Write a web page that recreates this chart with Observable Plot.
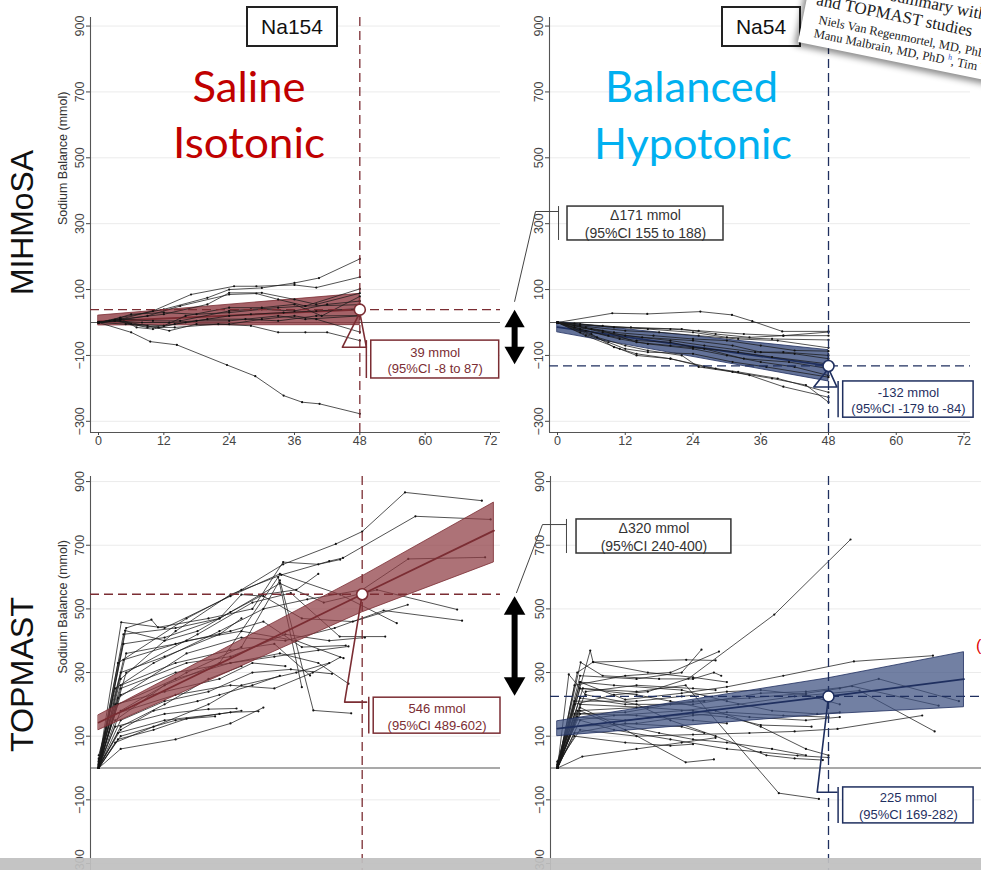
<!DOCTYPE html>
<html>
<head>
<meta charset="utf-8">
<script src="https://cdn.jsdelivr.net/npm/d3@7"></script>
<script src="https://cdn.jsdelivr.net/npm/@observablehq/plot@0.6"></script>
<style>
  body { margin: 0; background: #fff; }
  #page { position: relative; width: 981px; height: 870px; overflow: hidden; background: #fff; font-family: "Liberation Sans", Arial, sans-serif; }
  .panel { position: absolute; }
  .panel svg { display: block; }
  #deco { position: absolute; left: 0; top: 0; pointer-events: none; }
  #paper { position: absolute; left: 798px; top: -78px; width: 250px; height: 120px; background: #fff;
           transform-origin: 0 100%; transform: rotate(11.5deg);
           box-shadow: -3px 4px 6px rgba(0,0,0,0.45); font-family: "Liberation Serif", serif; color: #222; }
  #paper div { position: absolute; white-space: nowrap; line-height: 1; }
  #greybar { position: absolute; left: 0; top: 858px; width: 981px; height: 12px; background: rgba(192,192,192,0.93); }
</style>
</head>
<body>
<div id="page">
  <div class="panel" id="p-tl" style="left:0;top:0"></div>
  <div class="panel" id="p-tr" style="left:500px;top:0"></div>
  <div class="panel" id="p-bl" style="left:0;top:476px"></div>
  <div class="panel" id="p-br" style="left:500px;top:476px"></div>
  <svg id="deco" width="981" height="870">
    <text x="33" y="295" transform="rotate(-90 33 295)" font-family="Liberation Sans" font-size="32" fill="#111" textLength="145" lengthAdjust="spacingAndGlyphs">MIHMoSA</text>
    <text x="33" y="752" transform="rotate(-90 33 752)" font-family="Liberation Sans" font-size="32" fill="#111" textLength="155" lengthAdjust="spacingAndGlyphs">TOPMAST</text>
    <text x="249" y="101.7" text-anchor="middle" font-family="Lato" font-size="42" fill="#c00000" textLength="113" lengthAdjust="spacingAndGlyphs">Saline</text>
    <text x="249" y="158.3" text-anchor="middle" font-family="Lato" font-size="42" fill="#c00000" textLength="152" lengthAdjust="spacingAndGlyphs">Isotonic</text>
    <text x="691.5" y="101.7" text-anchor="middle" font-family="Lato" font-size="42" fill="#00b0f0" textLength="173" lengthAdjust="spacingAndGlyphs">Balanced</text>
    <text x="693" y="159" text-anchor="middle" font-family="Lato" font-size="42" fill="#00b0f0" textLength="198" lengthAdjust="spacingAndGlyphs">Hypotonic</text>
    <rect x="247" y="7" width="90" height="39" fill="#fff" stroke="#222" stroke-width="2"/>
    <text x="292" y="34" text-anchor="middle" font-family="Liberation Sans" font-size="21" fill="#111">Na154</text>
    <rect x="722" y="7" width="78" height="39" fill="#fff" stroke="#222" stroke-width="2"/>
    <text x="761" y="34" text-anchor="middle" font-family="Liberation Sans" font-size="21" fill="#111">Na54</text>
    <text x="976" y="651" font-family="Liberation Sans" font-size="16" fill="#e00000">(</text>
  </svg>
  <div id="paper">
    <div style="left:70px;bottom:56px;font-size:17px">a summary with</div>
    <div style="left:10px;bottom:37px;font-size:17px">and TOPMAST studies</div>
    <div style="left:16px;bottom:20px;font-size:12.5px">Niels Van Regenmortel, MD, PhD</div>
    <div style="left:14px;bottom:5px;font-size:12.5px">Manu Malbrain, MD, PhD <span style="color:#3355cc;font-size:8px;vertical-align:super">h</span>, Tim V</div>
  </div>
  <div id="greybar"></div>
</div>
<script>
// ---------- data ----------
const hours = [0, 12, 24, 36, 48, 60, 72];
const sodiumTicks = [900, 700, 500, 300, 100, -100, -300];

// MIHMoSA – saline (Na154): individual patients [hour, mmol]
const mihmosaSaline = [
  [[0,0],[4,15],[12,40],[20,75],[24,100],[30,105],[36,120],[40.5,135],[48,193]],
  [[0,0],[4,10],[10,35],[17,85],[24.9,110],[29,110],[36,114],[40,106],[48,138]],
  [[0,0],[3,5],[9,20],[15,50],[24,85],[29,88],[33,70],[38,50],[48,102]],
  [[0,0],[4,10],[12,25],[20,55],[24,90],[30,90],[36,70],[40,55],[48,89]],
  [[0,0],[3,5],[9,-15],[12,-10],[16,20],[24,45],[30,45],[36,55],[41,20],[48,79]],
  [[0,0],[4,10],[10,5],[15,5],[24,35],[28,40],[33,45],[38,50],[48,54]],
  [[0,0],[3,8],[6,-5],[12,-10],[16,0],[24,20],[28,25],[34,30],[40,35],[48,42]],
  [[0,0],[4,12],[7,-15],[10,-20],[14,-5],[20,10],[27,10],[33,5],[40,20],[48,21]],
  [[0,0],[5,-5],[11,-15],[14,-15],[22,-5],[28,-10],[33,-30],[38,-30],[42,-30],[48,-55]],
  [[0,0],[4,5],[9,-10],[13,-25],[18,-5],[24,-5],[30,10],[36,20],[40,10],[48,-29]],
  [[0,0],[6,-30],[9.5,-58],[14.4,-68],[23.6,-129],[28.8,-163],[34,-222],[37.4,-242],[40.6,-247],[48,-277]],
  [[0,0],[3,5],[8,0],[13,0],[18,5],[24,5],[33,20],[38,10],[48,20]],
  [[0,0],[2,5],[6,25],[12,30],[18,25],[24,30],[30,40],[36,35],[42,55],[48,65]]
];
const mihmosaSalineBand = [[0,-9,21],[48,-8,87]];   // hour, lower, upper
const mihmosaSalineMean = [[0,3],[48,39]];
const mihmosaSalineEstimate = 39;
const mihmosaSalineLabel = "39 mmol\n(95%CI -8 to 87)";

// MIHMoSA – balanced (Na54)
const mihmosaBalanced = [
  [[0,0],[9.7,28],[15.9,26],[25.3,33],[30.9,23],[34.5,4],[39.8,-27],[48,-27]],
  [[0,0],[4,-5],[10,-15],[20,-20],[25,-25],[33,-35],[40,-40],[48,-29]],
  [[0,0],[3,-3],[8,-10],[16,-20],[24,-30],[30,-45],[38,-50],[48,-53]],
  [[0,0],[4,-10],[12,-25],[18,-30],[25,-40],[32,-50],[39,-55],[48,-77]],
  [[0,0],[5,-15],[10,-30],[17,-40],[24,-50],[30,-55],[36,-70],[42,-85],[48,-87]],
  [[0,0],[3,-10],[8,-30],[15,-45],[24,-55],[31,-70],[36,-90],[42,-95],[48,-110]],
  [[0,0],[4,-20],[9,-40],[14,-55],[20,-60],[24,-75],[32,-90],[38,-105],[48,-126]],
  [[0,0],[5,-25],[11,-50],[16,-65],[24,-80],[30,-100],[36,-120],[42,-135],[48,-161]],
  [[0,0],[4,-30],[9,-60],[12,-80],[16,-90],[24,-95],[31,-120],[37,-135],[48,-166]],
  [[0,0],[6,-35],[10,-75],[14,-95],[20,-110],[26,-135],[32,-150],[39,-170],[48,-212]],
  [[0,0],[5,-40],[11,-80],[14,-100],[20,-110],[28,-140],[34,-160],[40,-195],[48,-227]],
  [[0,0],[7,-45],[12,-70],[16,-85],[22,-100],[25,-135],[31,-150],[38,-170],[44,-190],[48,-242]],
  [[0,0],[4,-8],[13,-15],[22,-20],[28,-35],[34,-45],[40,-40],[48,-40]],
  [[0,0],[6,-20],[12,-40],[20,-55],[26,-70],[35,-90],[40,-90],[48,-100]],
  [[0,0],[3,-15],[8,-25],[14,-60],[20,-70],[26,-80],[33,-110],[41,-120],[48,-140]]
];
const mihmosaBalancedBand = [[0,-30,1],[48,-179,-84]];
const mihmosaBalancedMean = [[0,-14],[48,-132]];
const mihmosaBalancedEstimate = -132;
const mihmosaBalancedLabel = "-132 mmol\n(95%CI -179 to -84)";
const mihmosaDeltaLabel = "\u0394171 mmol\n(95%CI 155 to 188)";

// TOPMAST – saline (Na154)
const topmastSaline = [
  [[0,20],[3.5,330],[16,470],[26,560],[33.6,640],[43.2,704],[48,743],[55.8,866],[69.8,840]],
  [[0,10],[4,280],[14,430],[24,545],[33.3,607],[42,650],[44.5,660],[57.7,791],[71.4,781]],
  [[0,30],[3,250],[10,330],[22,430],[30,500],[38,530],[48,560],[56.4,657],[70.4,662]],
  [[0,5],[4.5,390],[12,410],[22,470],[33,580],[41,520],[50.7,560],[65.3,498]],
  [[0,0],[3.5,220],[16,360],[26,410],[34,400],[43,440],[51.9,495],[66.2,463]],
  [[0,15],[4.1,458],[12,440],[24,540],[33,610],[44,545],[54.3,455]],
  [[0,0],[5,300],[18,420],[28,520],[35,550],[43.9,413],[52.2,413]],
  [[0,10],[4.5,420],[14,440],[22,470],[26,545],[30,540],[37,470],[46.3,460],[56.3,513]],
  [[0,0],[3,150],[12,260],[22,330],[32.7,600],[37,254]],
  [[0,0],[4,180],[16,300],[26,380],[33,590],[39.1,181],[46,172]],
  [[0,5],[3.5,200],[14,280],[24,330],[33,360],[40,330],[45.5,265]],
  [[0,0],[4,100],[14,150],[24,175],[29.1,178]],
  [[0,8],[3,130],[12,170],[20,185],[25.1,187]],
  [[0,0],[3.5,90],[10,120],[16,155],[21.2,162]],
  [[0,0],[4,150],[12,210],[20,240],[28,300],[35,310],[42.5,296]],
  [[0,20],[4,260],[14,330],[24,370],[32,390],[38.5,291]],
  [[0,0],[4.5,340],[16,400],[26,430],[36,400],[44.6,345]],
  [[0,10],[4,230],[14,300],[24,330],[32,350],[40,370],[45.5,382]],
  [[0,0],[5,440],[9.6,466],[10.8,442],[20,470],[28,500],[33.6,647],[40,640],[44,655]],
  [[0,0],[3,80],[10,130],[20,200],[26,260],[36,300],[42,330]],
  [[0,5],[3.5,110],[12,150],[22,170],[26,180]],
  [[0,0],[4,60],[14,90],[24,140],[30,190]],
  [[0,0],[4,130],[12,200],[20,280],[26,320]],
  [[0,15],[5,360],[14,390],[24,430],[30,460],[37,380],[45,385]],
  [[0,40],[4,300],[12,350],[22,420],[26,470]],
  [[0,25],[3,200],[12,240],[22,280],[28,330],[34,320]],
  [[0,0],[4.8,432],[12,400],[18,430],[24,490],[30,545],[36,560],[40,610]],
  [[0,10],[3,170],[14,230],[24,260],[32,250],[39,300],[44,348]],
  [[0,0],[4,250],[16,330],[24,350],[34,420],[42,400],[48.5,410]],
  [[0,5],[4,120],[10,180],[18,210],[22,230],[28,260],[33,290]]
];
const topmastSalineBand = [[0,119,166],[48,489,602],[72,646,834]];
const topmastSalineMean = [[0,143],[48,546],[72,746]];
const topmastSalineEstimate = 546;
const topmastSalineLabel = "546 mmol\n(95%CI 489-602)";

// TOPMAST – balanced (Na54)
const topmastBalanced = [
  [[0,0],[3,200],[10,230],[16,240],[23.2,281],[38.4,482],[51.9,718]],
  [[0,10],[4,270],[12,215],[22,235],[30,255],[40,290],[52.5,335],[66.5,353]],
  [[0,20],[3.5,180],[14,190],[24,210],[34,220],[44,235],[50,250],[56.9,280],[71.1,210]],
  [[0,5],[4,220],[12,200],[24,200],[36,235],[44,240],[52.2,257],[67.5,196]],
  [[0,0],[3,150],[10,165],[22,180],[32,200],[42,225],[53.5,243],[66.8,115]],
  [[0,15],[4,120],[14,100],[24,105],[34,110],[42,115],[49.6,123],[64.6,165]],
  [[0,0],[4,250],[14,240],[22.7,260],[39.2,-79],[46.3,-97]],
  [[0,0],[3.5,300],[6.3,333],[22.8,340],[28,338]],
  [[0,5],[4,290],[14,280],[22,300],[25.5,372]],
  [[0,0],[3,260],[12,290],[20,300],[28.6,366]],
  [[0,0],[4.1,332],[8,290],[18,280],[24,280],[27.7,300],[29,290]],
  [[0,0],[2,294],[5,230],[14,200],[20,150],[28,100],[37,40],[42,30],[47,25]],
  [[0,0],[4,180],[12,120],[22.7,18],[27.7,27]],
  [[0,0],[4.4,36],[14,60],[22,80],[28,95]],
  [[0,5],[3,100],[12,80],[20,70],[24,75]],
  [[0,0],[4,150],[10,120],[20,90],[30,60],[36,50],[42.5,39],[48,33]],
  [[0,10],[3,130],[14,140],[24,165],[30,175],[40,165],[48,160]],
  [[0,0],[4,200],[16,190],[24,180],[34,160],[44,150],[50,160]],
  [[0,0],[4.5,250],[14,230],[20,210],[28,180],[36,130],[44,60],[48,40]],
  [[0,0],[3.5,160],[12,150],[24,170],[30,160],[36,135],[45,130]],
  [[0,20],[3,210],[14,210],[22,225],[30,240],[36,245],[44,230],[50,200]],
  [[0,0],[4,190],[10,140],[18,110],[24,90],[30,80],[38,60],[44,40]],
  [[0,0],[3,110],[12,140],[22,130],[26,110]],
  [[0,5],[4,170],[14,165],[24,150],[30,140]],
  [[0,0],[4,270],[10,260],[22,245],[30,210],[38,180],[46,170],[50,175]],
  [[0,10],[3,170],[12,175],[20,200],[26,210]],
  [[0,0],[5,240],[14,260],[24,250],[28,245]],
  [[0,0],[5.8,369],[6.3,333],[16,300],[24,285],[30,270]]
];
const topmastBalancedBand = [[0,100,147],[48,169,282],[72,191,364]];
const topmastBalancedMean = [[0,124],[48,225],[72,279]];
const topmastBalancedEstimate = 225;
const topmastBalancedLabel = "225 mmol\n(95%CI 169-282)";
const topmastDeltaLabel = "\u0394320 mmol\n(95%CI 240-400)";

// ---------- annotation placement (data units of each panel) ----------
const calloutTL = [[48,30],[44.8,-75],[49.2,-75],[48,30]];
const bracketTL = {t: 49.2, lo: -170, hi: -55};
const boxTL = {x1: 50.1, x2: 73.6, y1: -170, y2: -55};

const calloutTR = [[48,-140],[45.4,-196],[49.5,-196],[48,-140]];
const bracketTR = {t: 49.7, lo: -289, hi: -179};
const boxTR = {x1: 50.6, x2: 73.7, y1: -289, y2: -179};
const deltaLinkTR = [[-7.6,64],[-3.9,337],[0.18,337]];
const deltaBracketTR = {t: 0.18, lo: 249, hi: 352};
const deltaBoxTR = {x1: 1.77, x2: 29.4, y1: 249, y2: 352};
const arrowTR = {t: -7.6, top: 3, bottom: -91, r: 7.5};

const calloutBL = [[48,546],[44.8,207],[48.8,207]];
const bracketBL = {t: 49.2, lo: 107, hi: 222};
const boxBL = {x1: 50.1, x2: 73.2, y1: 108, y2: 221};

const calloutBR = [[48,225],[46,-76],[49.5,-76]];
const bracketBR = {t: 49.7, lo: -174, hi: -61};
const boxBR = {x1: 50.6, x2: 73.7, y1: -174, y2: -61};
const deltaLinkBR = [[-7.26,551],[-2.66,765],[1.59,765]];
const deltaBracketBR = {t: 1.59, lo: 674, hi: 781};
const deltaBoxBR = {x1: 3.37, x2: 30.8, y1: 674, y2: 781};
const arrowBR = {t: -7.6, top: 501, bottom: 266, r: 8};

// ---------- drawing ----------
const minus = d => d < 0 ? "\u2212" + Math.abs(d) : String(d);
const narrow = "'Liberation Sans Narrow', 'Liberation Sans', Arial, sans-serif";

function valueBox(box, label, color, fontSize) {
  return [
    Plot.rect([box], {x1: "x1", x2: "x2", y1: "y1", y2: "y2", fill: "white", stroke: color, strokeWidth: 1.5}),
    Plot.text([box], {x: d => (d.x1 + d.x2) / 2, y: d => (d.y1 + d.y2) / 2, text: () => label,
      fill: color, fontSize, lineHeight: 1.3, fontFamily: narrow})
  ];
}

function deltaMarks(link, bracket, box, label, arrow) {
  return [
    Plot.line(link, {x: d => d[0], y: d => d[1], stroke: "#444", strokeWidth: 1}),
    Plot.ruleX([bracket], {x: "t", y1: "lo", y2: "hi", stroke: "#444", strokeWidth: 1}),
    ...valueBox(box, label, "#333", 14),
    Plot.ruleX([arrow], {x: "t", y1: "top", y2: "bottom", stroke: "black", strokeWidth: 6}),
    Plot.dot([arrow], {x: "t", y: "top", symbol: "triangle", r: arrow.r, fill: "black", stroke: null}),
    Plot.dot([arrow], {x: "t", y: "bottom", symbol: "triangle", r: arrow.r, fill: "black", stroke: null, rotate: 180})
  ];
}

function sodiumPanel(cfg) {
  const rows = cfg.series.flatMap((s, i) => s.map(([t, v]) => ({id: i, t, v})));
  const band = cfg.band.map(([t, lo, hi]) => ({t, lo, hi}));
  const mean = cfg.mean.map(([t, v]) => ({t, v}));
  const bandMarks = [
    Plot.areaY(band, {x: "t", y1: "lo", y2: "hi", fill: cfg.fill, fillOpacity: cfg.bandOpacity, stroke: cfg.dark, strokeWidth: 0.8}),
    Plot.line(mean, {x: "t", y: "v", stroke: cfg.dark, strokeWidth: 1.8})
  ];
  const lineMarks = [
    Plot.line(rows, {x: "t", y: "v", z: "id", stroke: "#1a1a1a", strokeWidth: 0.75}),
    Plot.dot(rows, {x: "t", y: "v", r: 1.1, fill: "#111", stroke: null})
  ];
  const marks = [
    Plot.ruleY(sodiumTicks, {stroke: "#ebebeb", strokeWidth: 1}),
    Plot.ruleY([0], {stroke: "#555", strokeWidth: 1.1}),
    Plot.ruleX([cfg.xDomain[0]], {stroke: "#555", strokeWidth: 1.1}),
    Plot.axisY({ticks: sodiumTicks, tickSize: 4, tickPadding: 3, tickRotate: -90, tickFormat: minus, color: "#444", label: null, fontSize: 12.5})
  ];
  if (cfg.showXAxis) {
    marks.push(Plot.ruleY([cfg.yDomain[0]], {stroke: "#555", strokeWidth: 1.1}));
    marks.push(Plot.axisX({ticks: hours, tickSize: 3, tickPadding: 1, color: "#444", label: null, fontSize: 12.5}));
  }
  if (cfg.showYLabel) {
    marks.push(Plot.text(["Sodium Balance (mmol)"], {frameAnchor: "left", dx: -28, rotate: -90, fontSize: 12.5, fill: "#333"}));
  }
  if (cfg.bandOnTop) marks.push(...lineMarks, ...bandMarks);
  else marks.push(...bandMarks, ...lineMarks);
  marks.push(
    Plot.ruleY([cfg.estimate], {stroke: cfg.dark, strokeWidth: 1.3, strokeDasharray: "9,5"}),
    Plot.ruleX([48], {stroke: cfg.dark, strokeWidth: 1.3, strokeDasharray: "9,5"}),
    Plot.line(cfg.callout, {x: d => d[0], y: d => d[1], stroke: cfg.dark, strokeWidth: 1.6}),
    Plot.ruleX([cfg.bracket], {x: "t", y1: "lo", y2: "hi", stroke: cfg.dark, strokeWidth: 1.5}),
    ...valueBox(cfg.box, cfg.label, cfg.dark, 13),
    ...(cfg.extra || []),
    Plot.dot([{t: 48, v: cfg.estimate}], {x: "t", y: "v", r: 5.5, fill: "white", stroke: cfg.dark, strokeWidth: 1.6})
  );
  return Plot.plot({
    width: cfg.width, height: cfg.height,
    marginTop: cfg.margin[0], marginRight: cfg.margin[1], marginBottom: cfg.margin[2], marginLeft: cfg.margin[3],
    x: {domain: cfg.xDomain, axis: null},
    y: {domain: cfg.yDomain, axis: null},
    style: "background: transparent; overflow: visible; font-family: 'Liberation Sans', Arial, sans-serif; font-size: 12.5px; max-width: none;",
    marks
  });
}

const maroon = "#7b2d33", maroonFill = "#8e3b42";
const navy = "#1f2f5f", navyFill = "#3c4f80";

document.getElementById("p-tl").append(sodiumPanel({
  series: mihmosaSaline, band: mihmosaSalineBand, mean: mihmosaSalineMean, estimate: mihmosaSalineEstimate,
  label: mihmosaSalineLabel, dark: maroon, fill: maroonFill, bandOpacity: 0.8,
  xDomain: [-1.47, 73.84], yDomain: [-334, 926], width: 500, height: 455, margin: [17, 0, 23, 90],
  showXAxis: true, showYLabel: true, bandOnTop: false,
  callout: calloutTL, bracket: bracketTL, box: boxTL
}));
document.getElementById("p-tr").append(sodiumPanel({
  series: mihmosaBalanced, band: mihmosaBalancedBand, mean: mihmosaBalancedMean, estimate: mihmosaBalancedEstimate,
  label: mihmosaBalancedLabel, dark: navy, fill: navyFill, bandOpacity: 0.8,
  xDomain: [-1.42, 73.15], yDomain: [-334, 926], width: 481, height: 455, margin: [17, 11, 23, 49],
  showXAxis: true, showYLabel: false, bandOnTop: false,
  callout: calloutTR, bracket: bracketTR, box: boxTR,
  extra: deltaMarks(deltaLinkTR, deltaBracketTR, deltaBoxTR, mihmosaDeltaLabel, arrowTR)
}));
document.getElementById("p-bl").append(sodiumPanel({
  series: topmastSaline, band: topmastSalineBand, mean: topmastSalineMean, estimate: topmastSalineEstimate,
  label: topmastSalineLabel, dark: maroon, fill: maroonFill, bandOpacity: 0.72,
  xDomain: [-1.5, 73.2], yDomain: [-322, 916], width: 500, height: 394, margin: [0, 0, 0, 90],
  showXAxis: false, showYLabel: true, bandOnTop: true,
  callout: calloutBL, bracket: bracketBL, box: boxBL
}));
document.getElementById("p-br").append(sodiumPanel({
  series: topmastBalanced, band: topmastBalancedBand, mean: topmastBalancedMean, estimate: topmastBalancedEstimate,
  label: topmastBalancedLabel, dark: navy, fill: navyFill, bandOpacity: 0.72,
  xDomain: [-1.24, 75.1], yDomain: [-322, 916], width: 481, height: 394, margin: [0, 0, 0, 50],
  showXAxis: false, showYLabel: false, bandOnTop: true,
  callout: calloutBR, bracket: bracketBR, box: boxBR,
  extra: deltaMarks(deltaLinkBR, deltaBracketBR, deltaBoxBR, topmastDeltaLabel, arrowBR)
}));
</script>
</body>
</html>
